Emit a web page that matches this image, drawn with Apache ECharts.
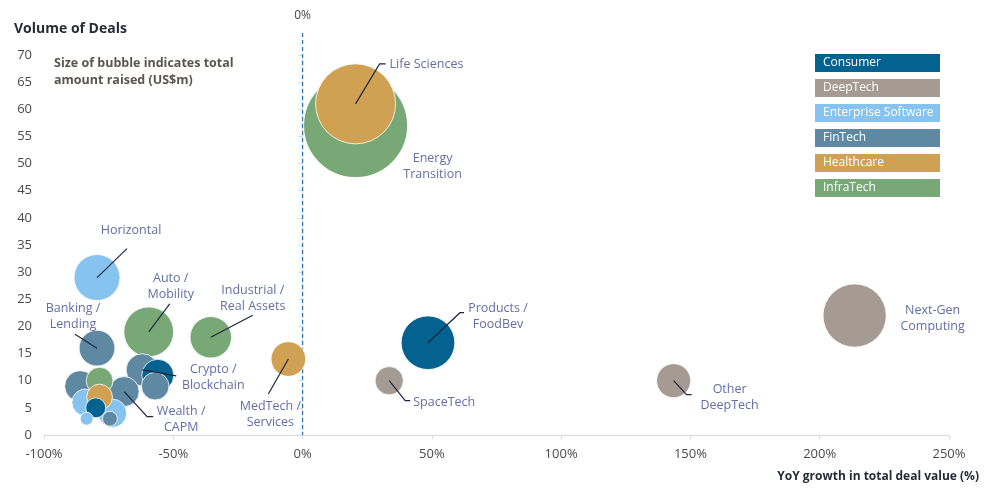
<!DOCTYPE html>
<html>
<head>
<meta charset="utf-8">
<script src="https://cdn.jsdelivr.net/npm/echarts@6/dist/echarts.min.js"></script>
<style>
  html, body { margin: 0; padding: 0; background: #ffffff; }
  #chart { width: 986px; height: 489px; }
</style>
</head>
<body>
<div id="chart"></div>
<script>
// Sectors and their colours
const sectors = ['Consumer', 'DeepTech', 'Enterprise Software', 'FinTech', 'Healthcare', 'InfraTech'];
const sectorColors = ['#03628F', '#A59B93', '#86C4EF', '#5F88A2', '#D0A152', '#78A876'];

// One entry per bubble (sub-sector). Empty name = unlabelled bubble.
const bubbleNames = [
  'Products /\nFoodBev', '', '',
  'Next-Gen\nComputing', 'Other\nDeepTech', 'SpaceTech',
  'Horizontal', '', '', '',
  'Banking /\nLending', 'Crypto /\nBlockchain', 'Wealth /\nCAPM', '', '', '',
  'Life Sciences', 'MedTech /\nServices', '',
  'Energy\nTransition', 'Auto /\nMobility', 'Industrial /\nReal Assets', ''
];
const bubbleSectors = [
  'Consumer', 'Consumer', 'Consumer',
  'DeepTech', 'DeepTech', 'DeepTech',
  'Enterprise Software', 'Enterprise Software', 'Enterprise Software', 'Enterprise Software',
  'FinTech', 'FinTech', 'FinTech', 'FinTech', 'FinTech', 'FinTech',
  'Healthcare', 'Healthcare', 'Healthcare',
  'InfraTech', 'InfraTech', 'InfraTech', 'InfraTech'
];
// YoY growth in total deal value (%)
const growthPct = [
  48.5, -56, -80,
  213.5, 143.5, 33.5,
  -79.5, -84, -73.5, -83.5,
  -79.5, -62, -69, -57, -86, -74.5,
  20.5, -5.5, -78.5,
  20.5, -59.5, -35.5, -78.5
];
// Volume of deals
const dealCount = [
  17, 11, 5,
  22, 10, 10,
  29, 6, 4, 3,
  16, 12, 8, 9, 9, 3,
  61, 14, 7,
  57, 19, 18, 10
];
// Total amount raised (US$m) - drives bubble area
const amountRaised = [
  720, 256, 100,
  1000, 290, 200,
  530, 180, 200, 42,
  320, 260, 225, 190, 240, 55,
  1600, 300, 165,
  2700, 620, 430, 180
];

// Axis ranges and reference line
const xAxisRange = [-100, 250];
const xStep = 50;
const yAxisRange = [0, 70];
const yStep = 5;
const referenceGrowth = [0];

// Leader-line and label placement, in pixels relative to the bubble centre
const labelLayout = {
  'Products /\nFoodBev':        { line: [[32, -30], [36, -30]], text: [70, -26], align: 'center' },
  'Next-Gen\nComputing':        { line: [], text: [78, 3], align: 'center' },
  'Other\nDeepTech':            { line: [[13, 14], [18, 14]], text: [56, 17], align: 'center' },
  'SpaceTech':                  { line: [[16, 20], [21, 20]], text: [24, 22], align: 'left' },
  'Horizontal':                 { line: [[30, -29]], text: [34, -47], align: 'center' },
  'Banking /\nLending':         { line: [[-22, -14]], text: [-24, -32], align: 'center' },
  'Crypto /\nBlockchain':       { line: [[34, 6]], text: [71, 8], align: 'center' },
  'Wealth /\nCAPM':             { line: [[23, 25], [29, 25]], text: [57, 28], align: 'center' },
  'Life Sciences':              { line: [[24, -40], [30, -40]], text: [34, -39], align: 'left' },
  'MedTech /\nServices':        { line: [[-20, 35]], text: [-18, 55], align: 'center' },
  'Energy\nTransition':         { line: [], text: [77, 41], align: 'center' },
  'Auto /\nMobility':           { line: [[21, -28]], text: [22, -45], align: 'center' },
  'Industrial /\nReal Assets':  { line: [[42, -22]], text: [42, -39], align: 'center' }
};

const FONT = '"Open Sans", "Noto Sans", sans-serif';
const labelColor = '#646EA6';
const leaderColor = '#1E2640';

// Larger bubbles first so smaller ones stay visible on top
const bubbles = bubbleNames.map((name, i) => ({
  name: name,
  value: [growthPct[i], dealCount[i], amountRaised[i]],
  itemStyle: { color: sectorColors[sectors.indexOf(bubbleSectors[i])] }
})).sort((a, b) => b.value[2] - a.value[2]);

const labelled = bubbles.filter(b => b.name !== '');

// Legend as coloured boxes with white captions
const legendGraphics = sectors.map((s, i) => ({
  type: 'group',
  left: 815,
  top: 54 + i * 25,
  children: [
    { type: 'rect', shape: { x: 0, y: 0, width: 125, height: 18 }, style: { fill: sectorColors[i] } },
    { type: 'text', style: { x: 8, y: 9, text: s, fill: '#ffffff', font: '12px ' + FONT, verticalAlign: 'middle' } }
  ]
}));

const chart = echarts.init(document.getElementById('chart'), null, { renderer: 'canvas' });

chart.setOption({
  animation: false,
  backgroundColor: '#ffffff',
  grid: { left: 44, right: 37, top: 55, bottom: 54, containLabel: false },
  xAxis: {
    type: 'value',
    min: xAxisRange[0], max: xAxisRange[1], interval: xStep,
    axisLine: { show: true, onZero: false, lineStyle: { color: '#D9D9D9', width: 1 } },
    axisTick: { show: true, length: 4, lineStyle: { color: '#D9D9D9' } },
    splitLine: { show: false },
    axisLabel: { formatter: v => v + '%', color: '#4A4A4A', fontSize: 13, fontFamily: FONT, margin: 13 }
  },
  yAxis: {
    type: 'value',
    min: yAxisRange[0], max: yAxisRange[1], interval: yStep,
    axisLine: { show: true, lineStyle: { color: '#D9D9D9', width: 1 } },
    axisTick: { show: true, length: 4, lineStyle: { color: '#D9D9D9' } },
    splitLine: { show: false },
    axisLabel: { color: '#4A4A4A', fontSize: 13, fontFamily: FONT, margin: 12 }
  },
  graphic: [
    { type: 'text', left: 14, top: 22, style: { text: 'Volume of Deals', fill: '#262B36', font: 'bold 14px ' + FONT } },
    { type: 'text', left: 54, top: 55, style: { text: 'Size of bubble indicates total\namount raised (US$m)', fill: '#595550', font: 'bold 12.5px ' + FONT, lineHeight: 17 } },
    { type: 'text', right: 7, top: 471, style: { text: 'YoY growth in total deal value (%)', fill: '#262B36', font: 'bold 12px ' + FONT } }
  ].concat(legendGraphics),
  series: [
    {
      type: 'scatter',
      data: bubbles,
      symbol: 'circle',
      symbolSize: v => 2 * Math.sqrt(v[2]),
      itemStyle: { borderColor: 'rgba(255,255,255,0.8)', borderWidth: 1, opacity: 1 },
      z: 2
    },
    {
      // dashed zero-growth reference line with its caption
      type: 'custom',
      data: referenceGrowth.map(g => [g]),
      z: 1,
      clip: false,
      renderItem: (params, api) => {
        const bottom = api.coord([api.value(0), yAxisRange[0]]);
        const top = api.coord([api.value(0), yAxisRange[1]]);
        return {
          type: 'group',
          children: [
            { type: 'line', shape: { x1: bottom[0], y1: top[1] - 22, x2: bottom[0], y2: bottom[1] },
              style: { stroke: '#2A78B5', lineWidth: 1.3, lineDash: [4, 3] } },
            { type: 'text', style: { x: bottom[0], y: top[1] - 39, text: api.value(0) + '%', fill: '#4A4A4A',
              font: '12px ' + FONT, align: 'center', verticalAlign: 'middle' } }
          ]
        };
      }
    },
    {
      // leader lines and sub-sector captions
      type: 'custom',
      data: labelled.map(b => [b.value[0], b.value[1]]),
      z: 5,
      clip: false,
      renderItem: (params, api) => {
        const name = labelled[params.dataIndex].name;
        const lay = labelLayout[name];
        const c = api.coord([api.value(0), api.value(1)]);
        const children = [];
        if (lay.line.length) {
          const pts = [[c[0], c[1]]].concat(lay.line.map(p => [c[0] + p[0], c[1] + p[1]]));
          children.push({ type: 'polyline', shape: { points: pts },
            style: { stroke: leaderColor, lineWidth: 1.2, fill: null } });
        }
        children.push({ type: 'text', style: {
          x: c[0] + lay.text[0], y: c[1] + lay.text[1], text: name, fill: labelColor,
          font: '12.5px ' + FONT, align: lay.align, verticalAlign: 'middle', lineHeight: 16 } });
        return { type: 'group', children: children };
      }
    }
  ]
});
</script>
</body>
</html>
